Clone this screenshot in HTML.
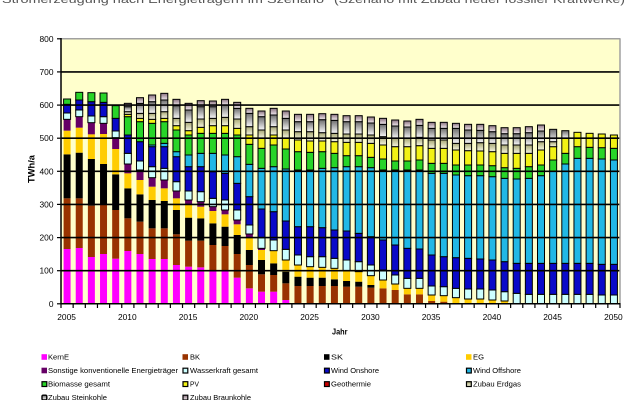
<!DOCTYPE html>
<html><head><meta charset="utf-8"><style>
html,body{margin:0;padding:0;background:#fff;}
svg{display:block;}
text{font-family:"Liberation Sans",Arial,sans-serif;}
</style></head><body>
<svg id="s" xmlns="http://www.w3.org/2000/svg" width="627" height="400" viewBox="0 0 627 400">
<defs>
<linearGradient id="gEG" x1="0" y1="0" x2="0" y2="1"><stop offset="0" stop-color="#a8a874"/><stop offset="1" stop-color="#f6f6e0"/></linearGradient>
<linearGradient id="gSK" x1="0" y1="0" x2="0" y2="1"><stop offset="0" stop-color="#6e6e6e"/><stop offset="1" stop-color="#f8f8f8"/></linearGradient>
<linearGradient id="gBK" x1="0" y1="0" x2="0" y2="1"><stop offset="0" stop-color="#8a7280"/><stop offset="1" stop-color="#f2eaee"/></linearGradient>
</defs>
<rect x="0" y="0" width="627" height="400" fill="#fff"/>
<text x="2" y="3" font-size="11" fill="#555" textLength="322" lengthAdjust="spacingAndGlyphs">Stromerzeugung nach Energieträgern im Szenario</text>
<text x="334" y="3" font-size="11" fill="#555" textLength="291" lengthAdjust="spacingAndGlyphs">(Szenario mit Zubau neuer fossiler Kraftwerke)</text>
<rect x="61" y="38.8" width="559" height="265" fill="#ffffcc"/>
<g id="bars"></g>
<g stroke="#000" stroke-width="1.6">
<line x1="61" x2="620" y1="270.7" y2="270.7"/>
<line x1="61" x2="620" y1="237.6" y2="237.6"/>
<line x1="61" x2="620" y1="204.4" y2="204.4"/>
<line x1="61" x2="620" y1="171.3" y2="171.3"/>
<line x1="61" x2="620" y1="138.2" y2="138.2"/>
<line x1="61" x2="620" y1="105.1" y2="105.1"/>
<line x1="61" x2="620" y1="71.9" y2="71.9"/>
</g>
<line x1="61" x2="620.5" y1="38.8" y2="38.8" stroke="#a0a0a0" stroke-width="1.5"/>
<line x1="620" x2="620" y1="38.8" y2="303.8" stroke="#a0a0a0" stroke-width="1.5"/>
<line x1="61" x2="61" y1="38" y2="304.5" stroke="#000" stroke-width="1.5"/>
<line x1="60.5" x2="620.5" y1="303.8" y2="303.8" stroke="#000" stroke-width="1.5"/>
<g id="ticks" stroke="#000" stroke-width="1.2">
<line x1="57" x2="61" y1="303.8" y2="303.8"/>
<line x1="57" x2="61" y1="270.7" y2="270.7"/>
<line x1="57" x2="61" y1="237.6" y2="237.6"/>
<line x1="57" x2="61" y1="204.4" y2="204.4"/>
<line x1="57" x2="61" y1="171.3" y2="171.3"/>
<line x1="57" x2="61" y1="138.2" y2="138.2"/>
<line x1="57" x2="61" y1="105.1" y2="105.1"/>
<line x1="57" x2="61" y1="71.9" y2="71.9"/>
<line x1="57" x2="61" y1="38.8" y2="38.8"/>
</g>
<g font-size="8.4" fill="#000" text-anchor="end">
<text x="53.5" y="306.8">0</text>
<text x="53.5" y="273.7">100</text>
<text x="53.5" y="240.6">200</text>
<text x="53.5" y="207.4">300</text>
<text x="53.5" y="174.3">400</text>
<text x="53.5" y="141.2">500</text>
<text x="53.5" y="108.1">600</text>
<text x="53.5" y="74.9">700</text>
<text x="53.5" y="41.8">800</text>
</g>
<g font-size="8.4" fill="#000" text-anchor="middle">
<text x="66.6" y="320">2005</text>
<text x="127.3" y="320">2010</text>
<text x="188.1" y="320">2015</text>
<text x="248.8" y="320">2020</text>
<text x="309.6" y="320">2025</text>
<text x="370.4" y="320">2030</text>
<text x="431.1" y="320">2035</text>
<text x="491.9" y="320">2040</text>
<text x="552.6" y="320">2045</text>
<text x="613.4" y="320">2050</text>
</g>
<text transform="translate(34.5,169) rotate(-90)" font-size="9" font-weight="bold" text-anchor="middle" textLength="28" lengthAdjust="spacingAndGlyphs">TWh/a</text>
<text x="332" y="334.5" font-size="8.5" font-weight="bold" textLength="15.5" lengthAdjust="spacingAndGlyphs">Jahr</text>

<g id="legend" font-size="7.5" fill="#000">
<rect x="41.5" y="354.2" width="5.5" height="5.6" fill="#ff00ff"/>
<text x="48" y="359.6" textLength="21" lengthAdjust="spacingAndGlyphs">KernE</text>
<rect x="182.5" y="354.2" width="5.5" height="5.6" fill="#993300"/>
<text x="190" y="359.6" textLength="10" lengthAdjust="spacingAndGlyphs">BK</text>
<rect x="324" y="354.2" width="5.5" height="5.6" fill="#000"/>
<text x="331" y="359.6" textLength="12" lengthAdjust="spacingAndGlyphs">SK</text>
<rect x="466" y="354.2" width="5.5" height="5.6" fill="#ffcc00"/>
<text x="473" y="359.6" textLength="11" lengthAdjust="spacingAndGlyphs">EG</text>

<rect x="41.5" y="367.7" width="5.5" height="5.6" fill="#660066"/>
<text x="48" y="373.1" textLength="130" lengthAdjust="spacingAndGlyphs">Sonstige konventionelle Energieträger</text>
<rect x="183" y="368.2" width="4.8" height="4.8" fill="#ccffff" stroke="#000" stroke-width="1.2"/>
<text x="190" y="373.1" textLength="68" lengthAdjust="spacingAndGlyphs">Wasserkraft gesamt</text>
<rect x="324.5" y="368.2" width="4.8" height="4.8" fill="#0a0ac8" stroke="#000" stroke-width="1.2"/>
<text x="331" y="373.1" textLength="48" lengthAdjust="spacingAndGlyphs">Wind Onshore</text>
<rect x="466.5" y="368.2" width="4.8" height="4.8" fill="#22b8e6" stroke="#000" stroke-width="1.2"/>
<text x="473" y="373.1" textLength="48" lengthAdjust="spacingAndGlyphs">Wind Offshore</text>

<rect x="42" y="381.7" width="4.8" height="4.8" fill="#28d428" stroke="#000" stroke-width="1.2"/>
<text x="48" y="386.6" textLength="62" lengthAdjust="spacingAndGlyphs">Biomasse gesamt</text>
<rect x="183" y="381.7" width="4.8" height="4.8" fill="#f2f214" stroke="#000" stroke-width="1.2"/>
<text x="190" y="386.6" textLength="9" lengthAdjust="spacingAndGlyphs">PV</text>
<rect x="324.5" y="381.7" width="4.8" height="4.8" fill="#cc0000" stroke="#000" stroke-width="1.2"/>
<text x="331" y="386.6" textLength="40" lengthAdjust="spacingAndGlyphs">Geothermie</text>
<rect x="466.5" y="381.7" width="4.8" height="4.8" fill="url(#gEG)" stroke="#000" stroke-width="1.2"/>
<text x="473" y="386.6" textLength="48" lengthAdjust="spacingAndGlyphs">Zubau Erdgas</text>

<rect x="42" y="395.2" width="4.8" height="4.8" rx="1.2" fill="url(#gSK)" stroke="#000" stroke-width="1.4"/>
<text x="48" y="400.1" textLength="59" lengthAdjust="spacingAndGlyphs">Zubau Steinkohle</text>
<rect x="183" y="395.2" width="4.8" height="4.8" fill="url(#gBK)" stroke="#000" stroke-width="1.2"/>
<text x="190" y="400.1" textLength="61" lengthAdjust="spacingAndGlyphs">Zubau Braunkohle</text>
</g>
</svg>
<script>
(function(){
var D=[
[492,340,208,137,103,84,58,58,42,42,42,42,42],
[489,340,203,128,95,75,45,45,22,22,22,22,22],
[516,362,222,148,113,93,50,50,23,23,23,23,23],
[507,357,237,147,115,95,52,52,24,24,24,24,24],
[521,375,268,192,158,138,100,100,62,62,62,62,62],
[498,400,310,265,237,205,150,150,95,88,80,65,55],
[507,410,328,285,255,228,170,170,110,100,85,55,38],
[522,430,345,305,278,245,185,180,115,103,85,50,30],
[522,430,348,310,285,250,185,175,110,100,80,45,25],
[540,448,375,340,318,290,215,200,135,122,100,62,43],
[545,467,398,360,345,318,245,210,150,137,112,75,55],
[547,467,400,365,350,320,245,205,145,127,102,65,47],
[557,480,415,378,365,340,260,205,145,122,100,65,48],
[557,483,425,388,375,345,265,210,145,122,97,60,43],
[578,507,450,418,405,375,295,215,150,130,102,70,52],
[610,540,495,458,447,420,335,238,178,150,125,85,70],
[620,568,525,495,490,458,372,250,190,160,135,95,78],
[620,570,535,497,497,465,380,245,180,150,125,90,70],
[645,595,560,525,525,493,408,252,192,160,135,100,78],
[657,603,575,540,540,510,425,255,200,165,140,110,88],
[657,603,578,545,545,515,425,255,202,168,140,110,88],
[657,603,578,547,547,515,428,250,200,168,86],
[657,603,583,550,550,520,435,248,205,170,88],
[657,605,588,557,557,525,438,245,212,172,92],
[657,605,590,560,560,530,445,245,212,172,92],
[657,608,600,572,572,540,455,248,217,175,96],
[657,610,610,585,585,555,465,255,222,180,100],
[657,615,615,597,597,570,480,255,228,185,105],
[657,628,628,610,610,580,490,255,228,185,108],
[657,628,628,610,610,580,492,255,225,182,103],
[657,648,648,630,630,603,510,265,235,190,165,130,112],
[657,650,650,632,632,605,515,265,235,190,165,130,112],
[657,657,657,638,638,610,518,270,240,195,175,130,115],
[657,657,657,642,642,612,520,272,240,197,175,135,118],
[657,657,657,642,642,612,522,272,240,198,118],
[657,657,657,645,645,615,525,275,242,200,122],
[657,657,657,648,648,620,530,280,248,205,128],
[657,657,657,657,657,625,535,282,250,205,128],
[657,657,657,657,657,628,535,280,245,205,125],
[657,657,657,657,657,628,535,272,240,195,120],
[657,657,657,657,657,628,535,258,225,185,170,133,133],
[657,657,657,657,657,628,535,237,205,160,160,137,137],
[657,657,657,657,657,628,535,220,185,142,142,142,142],
[657,657,657,657,657,628,535,220,187,145,145,145,145],
[657,657,657,657,657,630,538,222,188,147,147,147,147],
[657,657,657,657,657,630,538,225,190,150,150,150,150]
];
var cols=['#ff00ff','#993300','#000000','#ffcc00','#660066','#ccffff','#0a0ac8','#22b8e6','#28d428','#f2f214','url(#gEG)','url(#gSK)','url(#gBK)'];
var stroked=[0,0,0,0,0,1,1,1,1,1,1,1,1];
var NS='http://www.w3.org/2000/svg';
var g=document.getElementById('bars');
var tk=document.getElementById('ticks');
function Y(z){return z>=657?303.8:85+z/3;}
for(var k=0;k<=46;k++){
  var xx=61+12.152*k;
  var l=document.createElementNS(NS,'line');
  l.setAttribute('x1',xx);l.setAttribute('x2',xx);l.setAttribute('y1',303.8);l.setAttribute('y2',308);
  tk.appendChild(l);
}
for(var i=0;i<D.length;i++){
  var t=D[i].slice();
  if(t.length==11){var T=t[10],P=t[9];t=t.slice(0,10).concat([P-25,T+18,T]);}
  var cx=61+12.152*(i+0.5);
  var prev=657;
  for(var s=0;s<13;s++){
    var top=t[s];
    if(top<prev-0.1){
      var y1=Y(top),y2=Y(prev);
      var r=document.createElementNS(NS,'rect');
      r.setAttribute('x',(cx-3.5).toFixed(2));
      r.setAttribute('width',7);
      r.setAttribute('y',y1.toFixed(2));
      r.setAttribute('height',(y2-y1).toFixed(2));
      r.setAttribute('fill',cols[s]);
      if(stroked[s]){r.setAttribute('stroke','#000');r.setAttribute('stroke-width','1');}
      g.appendChild(r);
      prev=top;
    }
  }
}
})();
</script>
</body></html>
